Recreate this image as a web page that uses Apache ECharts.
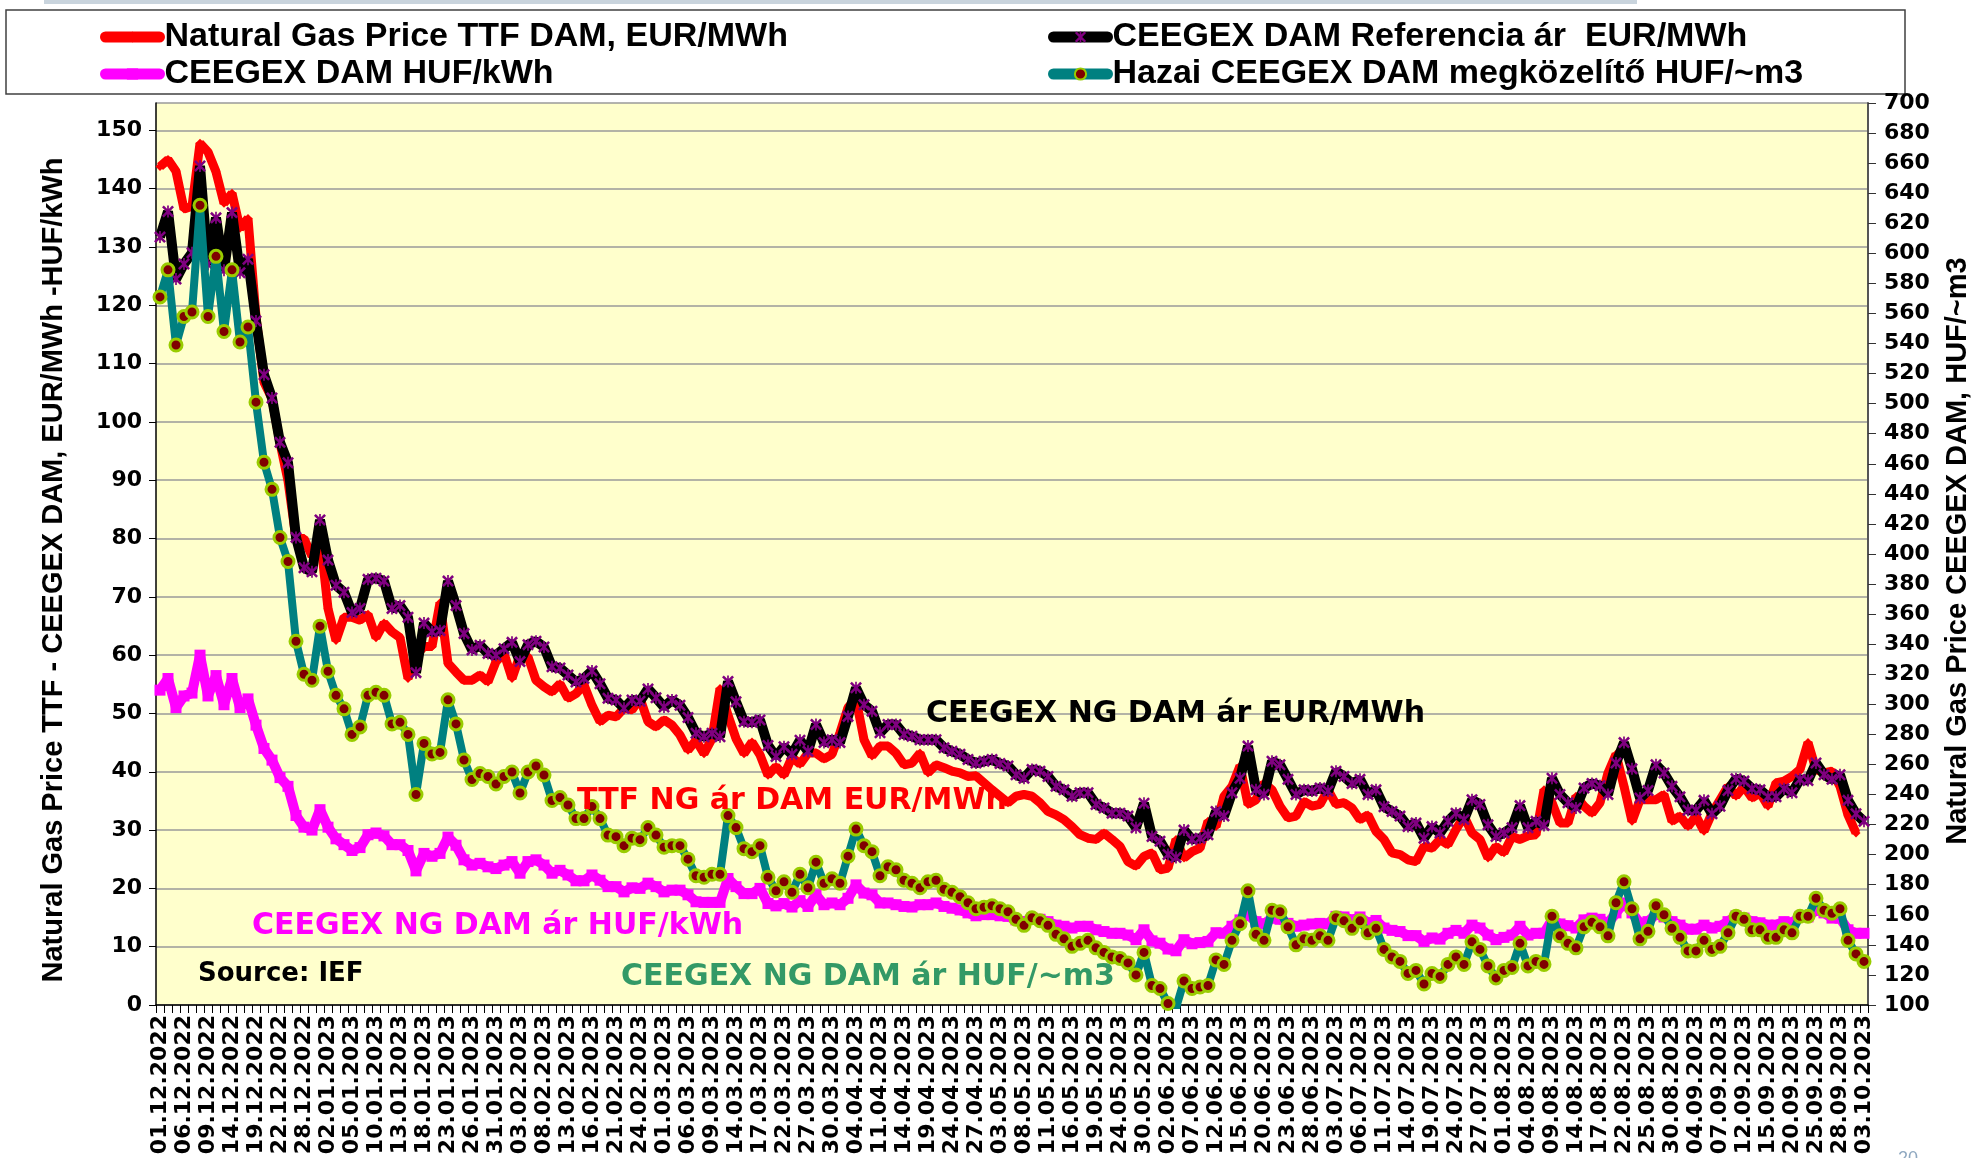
<!DOCTYPE html>
<html><head><meta charset="utf-8">
<script src="https://cdn.jsdelivr.net/npm/echarts@6/dist/echarts.min.js"></script>
<style>html,body{margin:0;padding:0;background:#fff;}#c{width:1975px;height:1158px;}</style>
</head><body><div id="c"></div>
<script>
const dates = [
"01.12.2022","02.12.2022","05.12.2022","06.12.2022","07.12.2022","08.12.2022","09.12.2022","12.12.2022","13.12.2022","14.12.2022",
"15.12.2022","16.12.2022","19.12.2022","20.12.2022","21.12.2022","22.12.2022","23.12.2022","27.12.2022","28.12.2022","29.12.2022",
"30.12.2022","02.01.2023","03.01.2023","04.01.2023","05.01.2023","06.01.2023","09.01.2023","10.01.2023","11.01.2023","12.01.2023",
"13.01.2023","16.01.2023","17.01.2023","18.01.2023","19.01.2023","20.01.2023","23.01.2023","24.01.2023","25.01.2023","26.01.2023",
"27.01.2023","30.01.2023","31.01.2023","01.02.2023","02.02.2023","03.02.2023","06.02.2023","07.02.2023","08.02.2023","09.02.2023",
"10.02.2023","13.02.2023","14.02.2023","15.02.2023","16.02.2023","17.02.2023","20.02.2023","21.02.2023","22.02.2023","23.02.2023",
"24.02.2023","27.02.2023","28.02.2023","01.03.2023","02.03.2023","03.03.2023","06.03.2023","07.03.2023","08.03.2023","09.03.2023",
"10.03.2023","13.03.2023","14.03.2023","15.03.2023","16.03.2023","17.03.2023","20.03.2023","21.03.2023","22.03.2023","23.03.2023",
"24.03.2023","27.03.2023","28.03.2023","29.03.2023","30.03.2023","31.03.2023","03.04.2023","04.04.2023","05.04.2023","06.04.2023",
"11.04.2023","12.04.2023","13.04.2023","14.04.2023","17.04.2023","18.04.2023","19.04.2023","20.04.2023","21.04.2023","24.04.2023",
"25.04.2023","26.04.2023","27.04.2023","28.04.2023","02.05.2023","03.05.2023","04.05.2023","05.05.2023","08.05.2023","09.05.2023",
"10.05.2023","11.05.2023","12.05.2023","15.05.2023","16.05.2023","17.05.2023","18.05.2023","19.05.2023","22.05.2023","23.05.2023",
"24.05.2023","25.05.2023","26.05.2023","30.05.2023","31.05.2023","01.06.2023","02.06.2023","05.06.2023","06.06.2023","07.06.2023",
"08.06.2023","09.06.2023","12.06.2023","13.06.2023","14.06.2023","15.06.2023","16.06.2023","19.06.2023","20.06.2023","21.06.2023",
"22.06.2023","23.06.2023","26.06.2023","27.06.2023","28.06.2023","29.06.2023","30.06.2023","03.07.2023","04.07.2023","05.07.2023",
"06.07.2023","07.07.2023","10.07.2023","11.07.2023","12.07.2023","13.07.2023","14.07.2023","17.07.2023","18.07.2023","19.07.2023",
"20.07.2023","21.07.2023","24.07.2023","25.07.2023","26.07.2023","27.07.2023","28.07.2023","31.07.2023","01.08.2023","02.08.2023",
"03.08.2023","04.08.2023","07.08.2023","08.08.2023","09.08.2023","10.08.2023","11.08.2023","14.08.2023","15.08.2023","16.08.2023",
"17.08.2023","18.08.2023","21.08.2023","22.08.2023","23.08.2023","24.08.2023","25.08.2023","28.08.2023","29.08.2023","30.08.2023",
"31.08.2023","01.09.2023","04.09.2023","05.09.2023","06.09.2023","07.09.2023","08.09.2023","11.09.2023","12.09.2023","13.09.2023",
"14.09.2023","15.09.2023","18.09.2023","19.09.2023","20.09.2023","21.09.2023","22.09.2023","25.09.2023","26.09.2023","27.09.2023",
"28.09.2023","29.09.2023","02.10.2023","03.10.2023"
];

const ttfEurMwh = [
143.8,145,143,136.5,137,147.8,146.3,142.9,137.5,139.2,
133.2,134.9,118,106.8,104,96.4,89.9,80,80,77,
80.5,68,62.5,66.5,66.5,66,67,63,65.5,64,
63,56,60,61.5,61.5,69,58.6,57.1,55.7,55.7,
56.6,55.4,58.9,60.3,56,60,59.7,55.7,54.6,53.7,
55.1,52.6,53.4,54.9,51.4,48.6,49.7,49.4,50.9,50.6,
52.6,48.6,47.7,48.9,48,46.3,43.7,45.4,43.1,45.7,
54.3,49.7,45.7,43.1,45.1,42.9,39.4,40.9,39.4,42.5,
41.3,43.2,43.2,42.2,43,46.7,51,52.5,45.5,42.7,
44.4,44.4,43.2,41.2,41.5,43.2,39.8,41.2,40.7,40.1,
39.8,39.2,39.3,38.1,36.9,35.8,34.7,35.8,36.1,35.8,
34.7,33.2,32.6,31.8,30.6,29.2,28.6,28.4,29.5,28.4,
27.2,24.6,23.8,25.5,26.1,23.2,23.5,28.4,25.2,26.3,
26.9,31.5,30.6,35.8,37.5,41,34.4,35.2,38.1,36.9,
34.1,32.1,32.4,34.9,34.1,34.4,36.9,34.4,34.7,33.8,
31.8,32.6,29.8,28.4,26.1,25.8,24.9,24.6,27.2,26.9,
28.4,27.5,30.1,32.4,29.5,28.4,25.2,27.2,26.1,28.9,
28.4,29,29.2,36.9,34.7,31.2,31.2,35.8,34.1,32.9,
34.7,39.8,43,37.5,31.5,35.2,35.2,35.2,36.1,31.5,
32.4,30.6,32.4,29.8,32.9,35.2,37.5,35.8,37.5,35.5,
36.4,34.1,38.1,38.4,39.2,40.4,45,40.4,39.8,40.1,
37.5,32.6,29.5,null
];

const ceegexEurMwh = [
131.7,136.1,124.5,127.1,129,143.9,127,135,126,135.9,
125.6,127.9,117.3,108.1,104.1,96.5,93,80.2,75,74.3,
83.2,76.3,72,70.8,67.3,68,73,73.2,72.7,68,
68.5,66.5,57,65.5,64,64.2,72.7,68.5,63.7,60.9,
61.7,60.3,60,61.1,62.2,58.9,61.8,62.4,61.4,58,
57.8,56.6,55.4,56,57.3,55.1,52.6,52.3,50.9,52.3,
52.1,54.2,52.7,51.1,52.3,51.4,49.3,46.6,46,46.6,
46,55.5,52,48.6,48.5,48.9,44.5,42.6,44.3,43,
45.4,43.5,48.1,45,45.5,45,49.5,54.4,51.5,50.4,
46.7,48.1,48.1,46.4,46.1,45.5,45.5,45.5,44.1,43.5,
43,42.1,41.5,41.8,42.1,41.4,41,39.5,38.9,40.4,
40.1,39.2,37.5,36.9,35.8,36.4,36.4,34.4,33.8,32.9,
32.9,32.4,30.4,34.6,28.9,28.1,25.8,25.3,30,28.4,
28.6,29.2,33.2,32.4,36.4,38.9,44.4,36.9,36.1,41.8,
41.2,38.7,36.1,36.9,36.7,37.2,36.7,40.1,39.2,38,
38.7,36.1,36.9,34,33.2,32.4,30.6,31.2,28.6,30.6,
29.5,31.5,32.9,31.8,35.2,34.4,30.9,28.9,29.5,30.4,
34.2,30.4,31.5,30.8,38.9,36.1,34.7,33.8,37.2,38,
37.6,36.1,41.5,45,40.5,35.5,36.8,41.2,39.8,37.5,
35.7,33.4,33.4,35.1,32.8,34.1,36.8,38.8,38.4,37.1,
36.9,35.7,35.7,37.1,36.4,38.7,38.5,41.5,39.5,38.7,
39.5,35.1,32.8,31.5
];

const ceegexHufKwh = [
54,56,51,53,53.5,60,53,56.5,51.5,56,
51,52.5,48,44,42,39,37.5,32.5,30.5,30,
33.5,30.5,28.5,27.5,26.5,27,29.2,29.5,29,27.5,
27.5,26.5,23,26,25.5,26,28.8,27.4,24.9,24,
24.3,23.7,23.4,24,24.6,22.6,24.6,24.9,24,22.6,
23.1,22.3,21.3,21.3,22.3,21.4,20.3,20.3,19.4,20.1,
20,20.9,20.3,19.4,19.7,19.7,18.9,17.7,17.6,17.6,
17.6,21.7,20.3,19.1,19.1,20,17.4,17,17.4,16.8,
17.9,16.9,18.9,17.2,17.5,17.2,18.3,20.6,19.2,18.9,
17.5,17.5,17.2,16.9,16.8,17.2,17.2,17.5,16.9,16.6,
16.3,15.8,15.3,15.5,15.5,15.3,15.2,14.6,14.3,14.9,
14.7,14.3,13.7,13.5,13.2,13.5,13.5,12.9,12.6,12.3,
12.3,12,11.2,12.9,11,10.6,9.6,9.3,11.2,10.5,
10.7,10.9,12.4,12.3,13.5,14.6,15.5,14.3,13.9,14.9,
14.7,14,13.5,13.7,13.9,14,13.9,15.2,15.1,14.6,
15.1,14.1,14.5,13.2,12.8,12.6,11.9,11.9,10.9,11.5,
11.3,12.3,12.8,12.3,13.7,13.2,12,11.2,11.6,12,
13.5,12,12.3,12.3,14.6,13.9,13.6,13.2,14.6,14.9,
14.7,14,15.8,17.5,15.8,14,14.3,15.6,15.1,14.3,
13.7,13,13,13.7,13.2,13.5,14.3,15.3,14.9,14.3,
14.1,13.7,13.7,14.3,14.1,15.2,15.1,16.3,15.8,14.9,
14.9,12.9,12.3,12.3
];

const hazaiHufM3 = [
571,589,539,558,561,632,558,598,548,589,
541,551,501,461,443,411,395,342,320,316,
352,322,306,297,280,285,306,308,306,287,
288,280,240,274,267,268,303,287,263,250,
254,252,247,252,255,241,255,259,253,236,
238,233,224,224,232,224,213,212,206,211,
210,218,213,205,206,206,197,186,185,187,
187,226,218,204,202,206,185,176,182,175,
187,178,195,181,184,181,199,217,206,202,
186,192,190,183,181,178,182,183,177,175,
172,168,164,165,166,164,162,157,153,158,
156,153,147,144,139,141,143,138,135,132,
131,128,120,135,113,111,101,98,116,111,
112,113,130,127,143,154,176,147,143,163,
162,152,140,144,143,146,143,158,156,151,
156,148,151,137,132,129,121,123,114,121,
119,127,132,127,142,137,126,118,123,125,
141,126,129,127,159,146,141,138,152,155,
152,146,168,182,164,144,149,166,160,151,
145,136,136,143,137,139,148,159,157,150,
150,145,145,150,148,159,159,171,163,161,
164,143,134,129
];

const seriesNames = [
  "Natural Gas Price TTF DAM, EUR/MWh",
  "CEEGEX DAM Referencia ár  EUR/MWh",
  "CEEGEX DAM HUF/kWh",
  "Hazai CEEGEX DAM megközelítő HUF/~m3"
];
const leftAxisTitle = "Natural Gas Price TTF - CEEGEX DAM, EUR/MWh -HUF/kWh";
const rightAxisTitle = "Natural Gas Price CEEGEX DAM, HUF/~m3";
const annotations = [
  {text: "CEEGEX NG DAM ár EUR/MWh", color: "#000000"},
  {text: "TTF NG ár DAM EUR/MWh", color: "#FF0000"},
  {text: "CEEGEX NG DAM ár HUF/kWh", color: "#FF00FF"},
  {text: "CEEGEX NG DAM ár HUF/~m3", color: "#339966"},
  {text: "Source: IEF", color: "#000000"}
];
const annotationPos = [[926, 714, 30], [577, 801, 30], [252, 926, 30], [621, 977, 30], [198, 974, 26]];

const TICKFONT = {fontFamily: "DejaVu Sans", fontWeight: "bold", fontSize: 22, color: "#000"};
const xMark = 'path://M0,1.5 L1.5,0 L5,3.5 L8.5,0 L10,1.5 L6.5,5 L10,8.5 L8.5,10 L5,6.5 L1.5,10 L0,8.5 L3.5,5 Z M4.3,0 L5.7,0 L5.7,10 L4.3,10 Z';

const chart = echarts.init(document.getElementById('c'), null, {renderer: 'canvas'});

const graphics = [
  {type: 'rect', shape: {x: 44, y: 0, width: 1593, height: 4}, style: {fill: '#c9d4dd'}, silent: true, z: 0},
  {type: 'rect', shape: {x: 6, y: 10, width: 1899, height: 84}, style: {fill: '#ffffff', stroke: '#404040', lineWidth: 1.5}, silent: true, z: 0},
  {type: 'text', x: 54, y: 570, rotation: Math.PI / 2, z: 50,
   style: {text: leftAxisTitle, fontFamily: 'Liberation Sans', fontWeight: 'bold', fontSize: 29, fill: '#000', align: 'center', verticalAlign: 'middle'}},
  {type: 'text', x: 1958, y: 551, rotation: Math.PI / 2, z: 50,
   style: {text: rightAxisTitle, fontFamily: 'Liberation Sans', fontWeight: 'bold', fontSize: 29, fill: '#000', align: 'center', verticalAlign: 'middle'}},
  {type: 'text', x: 1898, y: 1150, z: 50, style: {text: '20', fontFamily: 'Liberation Sans', fontSize: 18, fill: '#8fa8c0', align: 'left', verticalAlign: 'top'}}
];
annotations.forEach((a, k) => {
  graphics.push({type: 'text', x: annotationPos[k][0], y: annotationPos[k][1], z: 100,
    style: {text: a.text, fontFamily: 'DejaVu Sans', fontWeight: 'bold', fontSize: annotationPos[k][2], fill: a.color, align: 'left', verticalAlign: 'middle'}});
});

const legendText = {fontFamily: 'Liberation Sans', fontWeight: 'bold', fontSize: 34, color: '#000'};
const legendLine = {width: 11, cap: 'round'};

chart.setOption({
  animation: false,
  backgroundColor: '#ffffff',
  grid: {left: 156, right: 107, top: 103, bottom: 153, show: true, backgroundColor: '#FFFFCC', borderWidth: 0},
  legend: [
    {data: [seriesNames[0], seriesNames[2]], orient: 'vertical', left: 100, top: 20, itemGap: 3, itemWidth: 54, itemHeight: 14, padding: 0, selectedMode: false, textStyle: legendText, lineStyle: legendLine},
    {data: [seriesNames[1], seriesNames[3]], orient: 'vertical', left: 1048, top: 20, itemGap: 3, itemWidth: 54, itemHeight: 14, padding: 0, selectedMode: false, textStyle: legendText, lineStyle: legendLine}
  ],
  xAxis: {
    type: 'category', data: dates, boundaryGap: true,
    axisLine: {lineStyle: {color: '#000', width: 1.5}},
    axisTick: {show: true, interval: 0, length: 8, lineStyle: {color: '#000', width: 1}},
    axisLabel: Object.assign({interval: 2, rotate: 90, margin: 10}, TICKFONT),
    splitLine: {show: false}
  },
  yAxis: [
    {type: 'value', min: 0, max: 154.7, interval: 10, position: 'left',
     axisLine: {show: true, lineStyle: {color: '#000', width: 1.5}},
     axisTick: {show: true, length: 7, lineStyle: {color: '#000'}},
     axisLabel: Object.assign({margin: 14, showMaxLabel: false, formatter: v => (v % 10 === 0 ? String(v) : '')}, TICKFONT),
     splitLine: {show: true, lineStyle: {color: '#9a9a9a', width: 1.5}}},
    {type: 'value', min: 100, max: 700, interval: 20, position: 'right',
     axisLine: {show: true, lineStyle: {color: '#555', width: 2}},
     axisTick: {show: true, length: 8, lineStyle: {color: '#333'}},
     axisLabel: Object.assign({margin: 16}, TICKFONT),
     splitLine: {show: false}}
  ],
  graphic: graphics,
  series: [
    {name: seriesNames[0], type: 'line', yAxisIndex: 0, data: ttfEurMwh, showAllSymbol: true,
     symbol: 'diamond', symbolSize: 9, color: '#FF0000',
     lineStyle: {color: '#FF0000', width: 9}, itemStyle: {color: '#FF0000'}, z: 2},
    {name: seriesNames[1], type: 'line', yAxisIndex: 0, data: ceegexEurMwh, showAllSymbol: true,
     symbol: xMark, symbolSize: 12, color: '#000000',
     lineStyle: {color: '#000000', width: 10}, itemStyle: {color: '#800080'}, z: 3},
    {name: seriesNames[2], type: 'line', yAxisIndex: 0, data: ceegexHufKwh, showAllSymbol: true,
     symbol: 'rect', symbolSize: [11, 11], color: '#FF00FF',
     lineStyle: {color: '#FF00FF', width: 10}, itemStyle: {color: '#FF00FF'}, z: 4},
    {name: seriesNames[3], type: 'line', yAxisIndex: 1, data: hazaiHufM3, showAllSymbol: true,
     symbol: 'circle', symbolSize: 12, color: '#008080',
     lineStyle: {color: '#008080', width: 8}, itemStyle: {color: '#800000', borderColor: '#99CC00', borderWidth: 3}, z: 5}
  ]
});
</script></body></html>
